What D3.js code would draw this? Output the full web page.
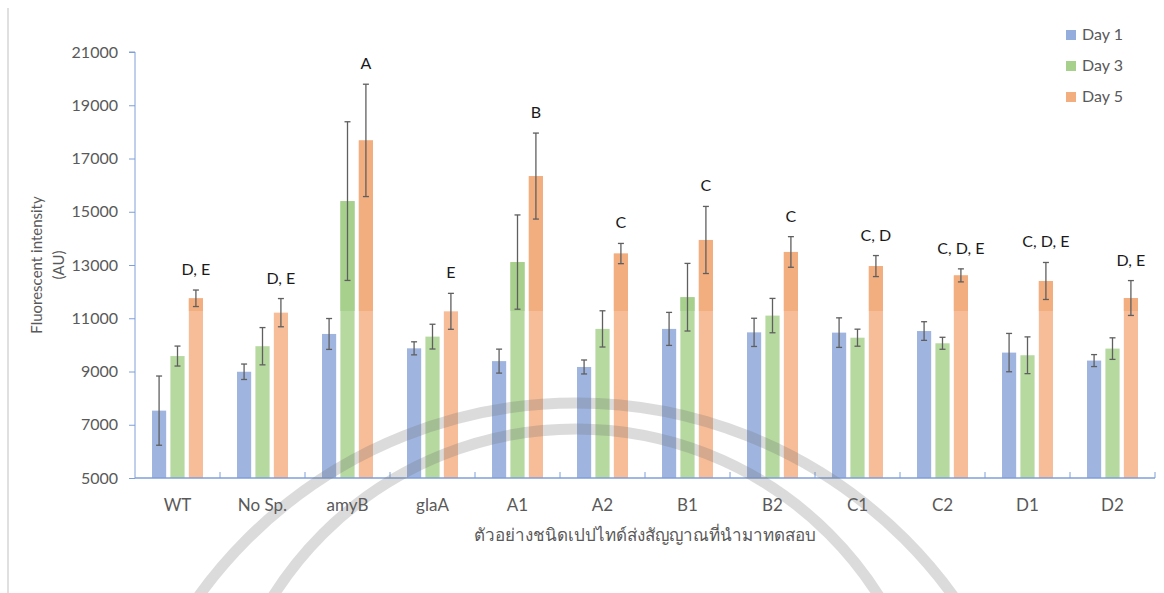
<!DOCTYPE html>
<html>
<head>
<meta charset="utf-8">
<script src="https://cdn.jsdelivr.net/npm/d3@7"></script>
<style>
  body { margin: 0; background: #fff; }
  text { font-family: Lato, "Open Sans", "Noto Sans", sans-serif; }
</style>
</head>
<body>
<div id="chart"></div>
<script>
var width = 1164;
var height = 593;

// data
var categories = ["WT", "No Sp.", "amyB", "glaA", "A1", "A2", "B1", "B2", "C1", "C2", "D1", "D2"];
var seriesNames = ["Day 1", "Day 3", "Day 5"];
var day1 = [7530, 8990, 10410, 9870, 9390, 9170, 10600, 10470, 10460, 10520, 9710, 9410];
var day3 = [9580, 9950, 15400, 10310, 13110, 10600, 11790, 11100, 10270, 10060, 9610, 9860];
var day5 = [11750, 11210, 17680, 11260, 16340, 13430, 13940, 13490, 12960, 12610, 12400, 11760];
var err1 = [1300, 290, 580, 245, 450, 262, 620, 530, 555, 350, 720, 225];
var err3 = [375, 700, 2980, 465, 1770, 680, 1270, 645, 320, 225, 690, 405];
var err5 = [310, 530, 2110, 675, 1615, 380, 1260, 575, 395, 245, 695, 655];
var letters = ["D, E", "D, E", "A", "E", "B", "C", "C", "C", "C, D", "C, D, E", "C, D, E", "D, E"];
var yTicks = [5000, 7000, 9000, 11000, 13000, 15000, 17000, 19000, 21000];

var lightColors = ["#9fb5df", "#b6d9a0", "#f6bd98"];
var darkColors = ["#94addc", "#a8d08d", "#f3ae80"];

var svg = d3.select("#chart")
  .append("svg")
  .attr("width", width)
  .attr("height", height);

// scanned page edge
svg.append("line")
  .attr("x1", 8).attr("x2", 8).attr("y1", 8).attr("y2", height)
  .attr("stroke", "#d6d6d6").attr("stroke-width", 1.5);

var x = d3.scaleBand().domain(categories).range([135, 1155]);
var y = d3.scaleLinear().domain([5000, 21000]).range([478, 52]);
var xs = d3.scaleBand().domain([0, 1, 2]).range([17, 68]).paddingInner(0.23);

var rows = [];
categories.forEach(function(c, i){
  [day1, day3, day5].forEach(function(arr, k){
    var e = [err1, err3, err5][k][i];
    rows.push({cat: c, k: k, v: arr[i], e: e});
  });
});

// bars, lighter below the scan line, darker above it
var defs = svg.append("defs");
defs.append("clipPath").attr("id", "upper")
  .append("rect").attr("x", 0).attr("y", 0).attr("width", width).attr("height", 311);

var bars_g = svg.append("g");
bars_g.selectAll("rect.low")
  .data(rows)
  .enter().append("rect")
  .attr("class", "low")
  .attr("x", function(d){ return x(d.cat) + xs(d.k); })
  .attr("y", function(d){ return y(d.v); })
  .attr("width", xs.bandwidth())
  .attr("height", function(d){ return y(5000) - y(d.v); })
  .attr("fill", function(d){ return lightColors[d.k]; });

svg.append("g").attr("clip-path", "url(#upper)")
  .selectAll("rect")
  .data(rows)
  .enter().append("rect")
  .attr("x", function(d){ return x(d.cat) + xs(d.k); })
  .attr("y", function(d){ return y(d.v); })
  .attr("width", xs.bandwidth())
  .attr("height", function(d){ return y(5000) - y(d.v); })
  .attr("fill", function(d){ return darkColors[d.k]; });

// error bars
var err_g = svg.append("g").attr("stroke", "#5f5f5f").attr("stroke-width", 1.3);
rows.forEach(function(d){
  var cx = x(d.cat) + xs(d.k) + xs.bandwidth() / 2;
  var t = y(d.v + d.e), b = y(d.v - d.e);
  err_g.append("line").attr("x1", cx).attr("x2", cx).attr("y1", t).attr("y2", b);
  err_g.append("line").attr("x1", cx - 3).attr("x2", cx + 3).attr("y1", t).attr("y2", t);
  err_g.append("line").attr("x1", cx - 3).attr("x2", cx + 3).attr("y1", b).attr("y2", b);
});

// significance letters above Day 5
svg.append("g").selectAll("text")
  .data(categories)
  .enter().append("text")
  .attr("x", function(c){ return x(c) + xs(2) + xs.bandwidth() / 2; })
  .attr("y", function(c, i){ return y(day5[i] + err5[i]) - 15; })
  .attr("text-anchor", "middle")
  .attr("font-size", 16)
  .attr("fill", "#1a1a1a")
  .text(function(c, i){ return letters[i]; });

// axes
var axisColor = "#7f9fd8";
var yAxis = svg.append("g")
  .attr("transform", "translate(135,0)")
  .call(d3.axisLeft(y).tickValues(yTicks).tickSize(6).tickPadding(11).tickFormat(d3.format("d")));
yAxis.select(".domain").attr("stroke", axisColor).attr("d", "M-6,52H0V478");
yAxis.selectAll(".tick line").attr("stroke", axisColor);
yAxis.selectAll(".tick text").attr("fill", "#595959").attr("font-size", 16)
  .attr("font-family", "Lato, 'Open Sans', sans-serif");

var bounds = categories.map(function(c){ return x(c); }).concat([1155]);
var xAxis = svg.append("g");
xAxis.append("line")
  .attr("x1", 135).attr("x2", 1155).attr("y1", 478).attr("y2", 478)
  .attr("stroke", axisColor).attr("stroke-width", 1.5);
xAxis.selectAll("line.tk")
  .data(bounds.slice(1))
  .enter().append("line")
  .attr("x1", function(d){ return d; }).attr("x2", function(d){ return d; })
  .attr("y1", 472).attr("y2", 478)
  .attr("stroke", axisColor);
xAxis.selectAll("text")
  .data(categories)
  .enter().append("text")
  .attr("x", function(c){ return x(c) + x.bandwidth() / 2; })
  .attr("y", 511)
  .attr("text-anchor", "middle")
  .attr("font-size", 17)
  .attr("fill", "#595959")
  .text(function(c){ return c; });

svg.append("text")
  .attr("x", 645).attr("y", 541)
  .attr("text-anchor", "middle")
  .attr("font-size", 17)
  .attr("fill", "#595959")
  .text("ตัวอย่างชนิดเปปไทด์ส่งสัญญาณที่นำมาทดสอบ");

var yTitle = svg.append("text")
  .attr("transform", "translate(42,265) rotate(-90)")
  .attr("text-anchor", "middle")
  .attr("font-size", 15)
  .attr("fill", "#595959");
yTitle.append("tspan").attr("x", 0).attr("dy", 0).text("Fluorescent intensity");
yTitle.append("tspan").attr("x", 0).attr("dy", 22).text("(AU)");

// legend
var legend = svg.append("g").attr("transform", "translate(1066,30)");
seriesNames.forEach(function(s, k){
  var g = legend.append("g").attr("transform", "translate(0," + (k * 31) + ")");
  g.append("rect").attr("width", 10).attr("height", 10).attr("fill", darkColors[k]);
  g.append("text").attr("x", 16).attr("y", 10).attr("font-size", 16)
    .attr("fill", "#595959").text(s);
});

// faint watermark arcs from the scanned page
var wm = svg.append("g").attr("fill", "none").attr("stroke", "#6e6e6e")
  .attr("stroke-opacity", 0.25).attr("stroke-width", 11);
wm.append("circle").attr("cx", 576).attr("cy", 868).attr("r", 465);
wm.append("circle").attr("cx", 576).attr("cy", 787).attr("r", 358);
</script>
</body>
</html>
